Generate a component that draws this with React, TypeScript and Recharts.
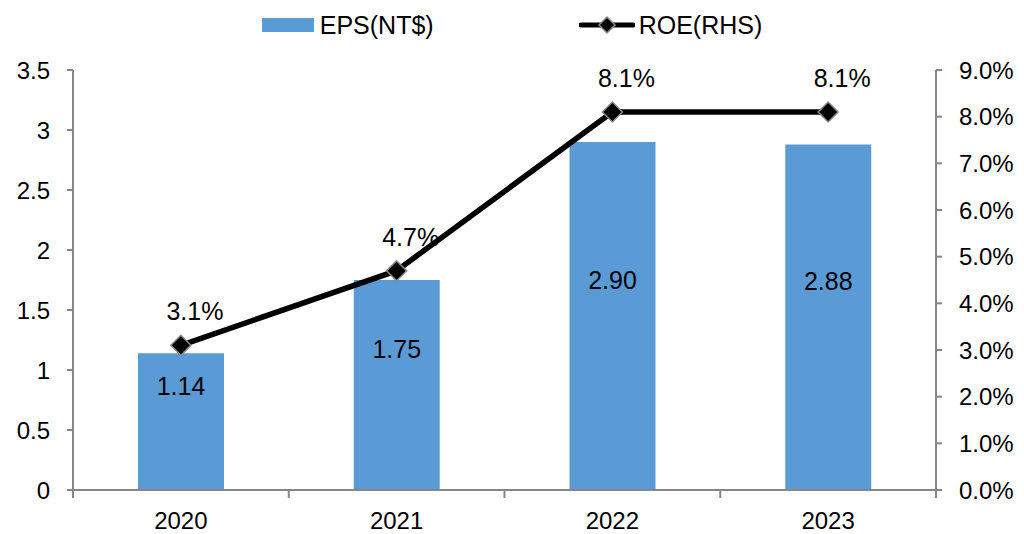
import React from 'react';
import { ComposedChart, Bar, Line, XAxis, YAxis, LabelList } from 'recharts';

const years = ['2020', '2021', '2022', '2023'];
const eps = [1.14, 1.75, 2.9, 2.88];
const roe = [3.1, 4.7, 8.1, 8.1];
const epsTicks = [0, 0.5, 1, 1.5, 2, 2.5, 3, 3.5];
const roeTicks = [0, 1, 2, 3, 4, 5, 6, 7, 8, 9];

const data = years.map((year, i) => ({ year, eps: eps[i], roe: roe[i] }));

const W = 1024;
const H = 534;
const LEFT_W = 73;
const RIGHT_W = 88;
const FONT = '"Liberation Sans", Arial, sans-serif';
const AXIS = '#868686';
const BLUE = '#5B9BD5';
const HALF_BAND = (W - LEFT_W - RIGHT_W) / years.length / 2;

const XTick = (props: any) => {
  const { x, y, payload, index } = props;
  return (
    <g>
      <line x1={x - HALF_BAND} x2={x - HALF_BAND} y1={y} y2={y + 8} stroke={AXIS} strokeWidth={2} />
      {index === years.length - 1 && (
        <line x1={x + HALF_BAND} x2={x + HALF_BAND} y1={y} y2={y + 8} stroke={AXIS} strokeWidth={2} />
      )}
      <text x={x} y={y + 39} textAnchor="middle" fontSize={24} fontFamily={FONT} fill="#000">
        {payload.value}
      </text>
    </g>
  );
};

const Diamond = (props: any) => {
  const { cx, cy } = props;
  if (cx == null || cy == null) return null;
  const r = 10;
  return (
    <path
      d={`M${cx},${cy - r}L${cx + r},${cy}L${cx},${cy + r}L${cx - r},${cy}Z`}
      fill="#000"
      stroke="#8a8a8a"
      strokeWidth={1.5}
    />
  );
};

const BarLabel = (props: any) => {
  const { x, y, width, height, value } = props;
  return (
    <text
      x={x + width / 2}
      y={y + height / 2 - 36}
      textAnchor="middle"
      dominantBaseline="central"
      fontSize={25}
      fontFamily={FONT}
      fill="#000"
    >
      {Number(value).toFixed(2)}
    </text>
  );
};

const LineLabel = (props: any) => {
  const { x, y, value } = props;
  return (
    <text
      x={x + 14}
      y={y - 34}
      textAnchor="middle"
      dominantBaseline="central"
      fontSize={25}
      fontFamily={FONT}
      fill="#000"
    >
      {Number(value).toFixed(1)}%
    </text>
  );
};

const LegendBox = () => (
  <div
    style={{
      position: 'absolute',
      top: 0,
      left: 0,
      width: W,
      height: 50,
      display: 'flex',
      justifyContent: 'center',
      alignItems: 'center',
      fontFamily: FONT,
      fontSize: 25,
      color: '#000',
      zIndex: 2,
    }}
  >
    <span style={{ display: 'inline-block', width: 52, height: 14, background: BLUE, marginRight: 6 }} />
    <span style={{ marginRight: 145 }}>EPS(NT$)</span>
    <svg width={56} height={22} style={{ marginRight: 4 }}>
      <line x1={2} x2={54} y1={11} y2={11} stroke="#000" strokeWidth={5} strokeLinecap="round" />
      <path d="M28,3L36,11L28,19L20,11Z" fill="#000" stroke="#8a8a8a" strokeWidth={1.5} />
    </svg>
    <span>ROE(RHS)</span>
  </div>
);

export default function App() {
  return (
    <div style={{ position: 'absolute', top: 0, left: 0, width: W, height: H, background: '#fff', overflow: 'visible' }}>
      <LegendBox />
      <ComposedChart
        width={W}
        height={H}
        data={data}
        margin={{ top: 70, right: 0, bottom: 0, left: 0 }}
        style={{ overflow: 'visible' }}
      >
        <XAxis
          dataKey="year"
          height={44}
          interval={0}
          tickSize={0}
          tickMargin={0}
          tickLine={false}
          axisLine={{ stroke: AXIS, strokeWidth: 2 }}
          tick={<XTick />}
        />
        <YAxis
          yAxisId="left"
          width={LEFT_W}
          domain={[0, 3.5]}
          ticks={epsTicks}
          interval={0}
          tickSize={6}
          tickMargin={17}
          axisLine={{ stroke: AXIS, strokeWidth: 2 }}
          tickLine={{ stroke: AXIS, strokeWidth: 2 }}
          tick={{ fontSize: 24, fill: '#000', fontFamily: FONT }}
        />
        <YAxis
          yAxisId="right"
          orientation="right"
          width={RIGHT_W}
          domain={[0, 9]}
          ticks={roeTicks}
          interval={0}
          tickSize={6}
          tickMargin={17}
          tickFormatter={(v: number) => `${v.toFixed(1)}%`}
          axisLine={{ stroke: AXIS, strokeWidth: 2 }}
          tickLine={{ stroke: AXIS, strokeWidth: 2 }}
          tick={{ fontSize: 24, fill: '#000', fontFamily: FONT, textAnchor: 'start' }}
        />
        <Bar yAxisId="left" dataKey="eps" fill={BLUE} barSize={86} isAnimationActive={false}>
          <LabelList dataKey="eps" content={<BarLabel />} />
        </Bar>
        <Line
          yAxisId="right"
          dataKey="roe"
          type="linear"
          stroke="#000"
          strokeWidth={5.5}
          dot={<Diamond />}
          activeDot={false}
          isAnimationActive={false}
        >
          <LabelList dataKey="roe" content={<LineLabel />} />
        </Line>
      </ComposedChart>
    </div>
  );
}
